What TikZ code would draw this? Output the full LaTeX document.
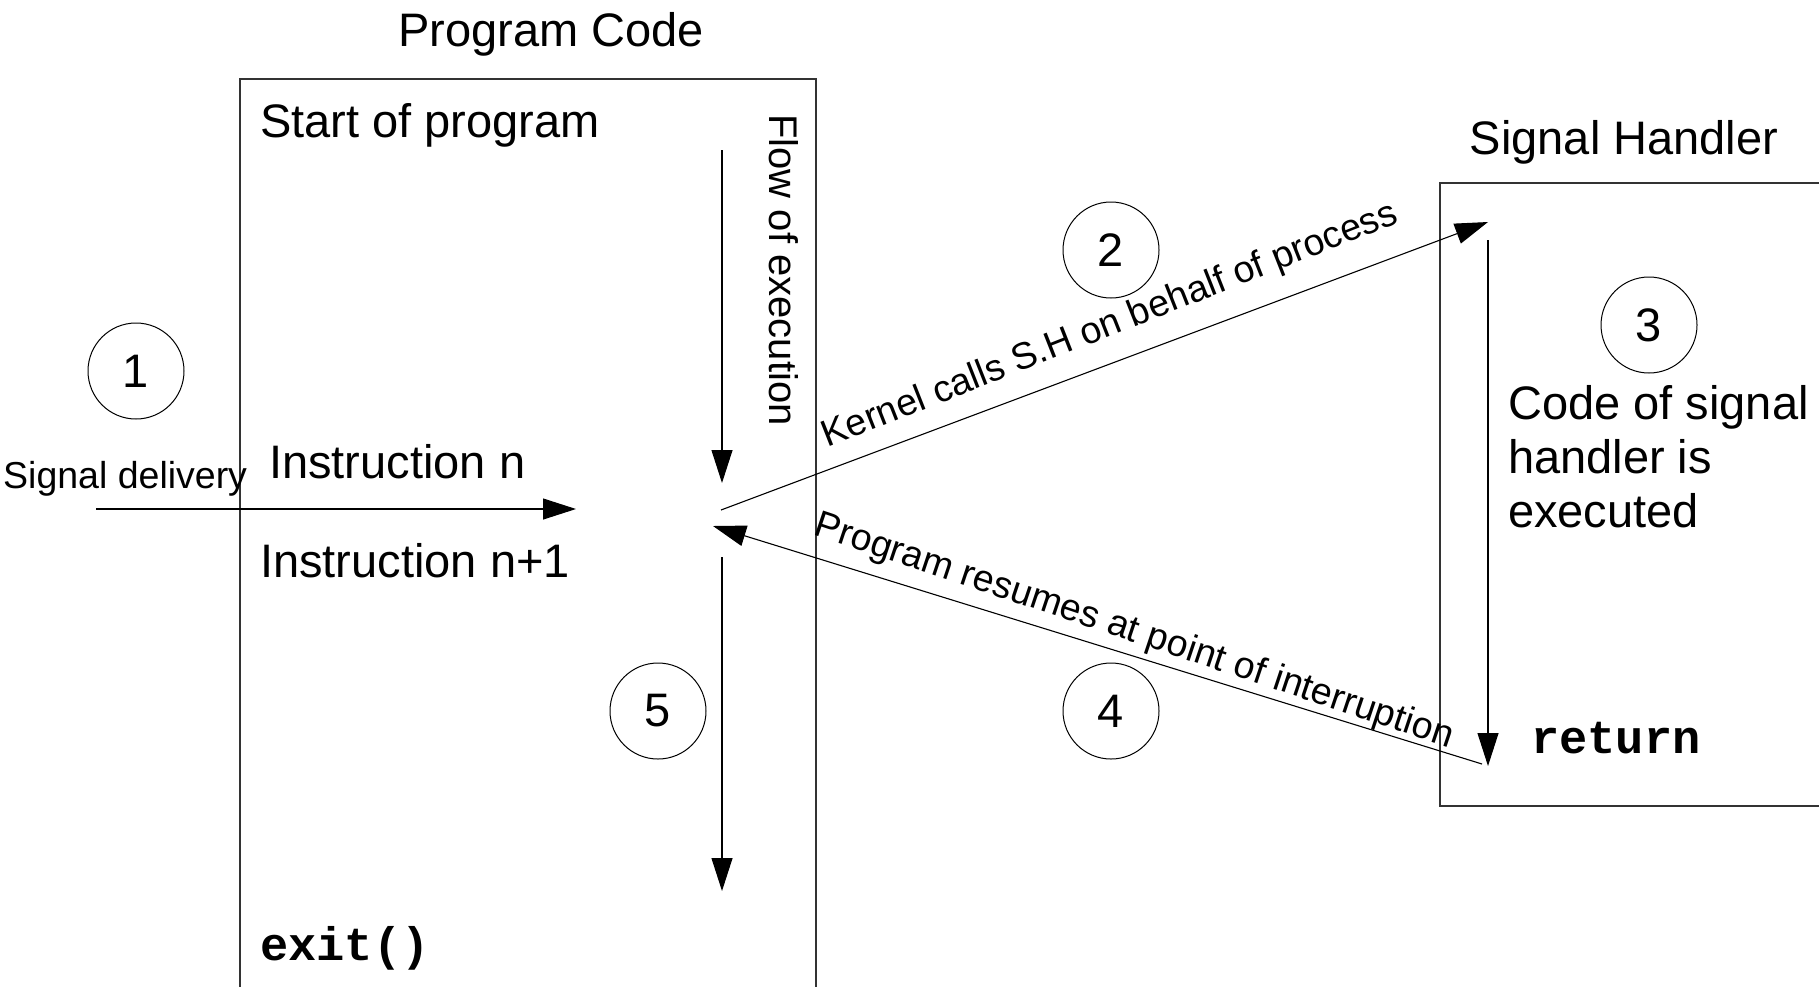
\documentclass[tikz,border=0pt]{standalone}
\usepackage{fontspec}
\setmainfont{Liberation Sans}
\setmonofont{Liberation Mono}
\usetikzlibrary{arrows.meta}
\begin{document}
\begin{tikzpicture}[x=1pt,y=-1pt,
  big/.style={font=\fontsize{47}{54}\selectfont, inner sep=0pt},
  mid/.style={font=\fontsize{37.5}{43}\selectfont, inner sep=0pt},
  code/.style={font=\fontsize{47}{54}\selectfont\ttfamily\bfseries, inner sep=0pt},
  num/.style={circle, draw, line width=1pt, minimum size=96pt, inner sep=0pt, font=\fontsize{47}{54}\selectfont},
  arr/.style={line width=1.1pt, -{Triangle[length=33pt,width=21pt]}},
  boxline/.style={line width=1.3pt, draw=black!80}]
\useasboundingbox (0,0) rectangle (1819,986);
\clip (0,0) rectangle (1819,986);

% boxes
\draw[boxline] (240,995) -- (240,79) -- (816,79) -- (816,995);
\draw[boxline] (1830,183) -- (1440,183) -- (1440,806) -- (1830,806);

% titles and texts
\node[big, anchor=base] (ptitle) at (551,46) {Program Code};
\node[big, anchor=base] (stitle) at (1624,154) {Signal Handler};
\node[big, anchor=base west] (start) at (260,137) {Start of program};
\node[big, anchor=base west] (instn) at (269,478) {Instruction n};
\node[big, anchor=base west] (instn1) at (260,577) {Instruction n+1};
\node[code, anchor=base west] (exit) at (260,960) {exit()};
\node[code, anchor=base west] (ret) at (1531,753) {return};
\node[big, anchor=base west, align=left] (shcode) at (1508,527) {Code of signal\\handler is\\executed};
\node[mid, anchor=base west] (sigdel) at (3,488) {Signal delivery};
\node[font=\fontsize{40}{46}\selectfont, inner sep=0pt, rotate=-90] (flow) at (784,270) {Flow of execution};

% numbered circles
\node[num] (c1) at (136,371) {1};
\node[num] (c2) at (1111,250) {2};
\node[num] (c3) at (1649,325) {3};
\node[num] (c4) at (1111,711) {4};
\node[num] (c5) at (658,711) {5};

% arrow end points
\coordinate (sdA) at (96,509);
\coordinate (sdB) at (576,509);
\coordinate (flA) at (722,150);
\coordinate (flB) at (722,483);
\coordinate (lwA) at (722,557);
\coordinate (lwB) at (722,891);
\coordinate (kA) at (721,510);
\coordinate (kB) at (1488,222);
\coordinate (rA) at (1482,764);
\coordinate (rB) at (713,526);
\coordinate (hA) at (1488,240);
\coordinate (hB) at (1488,766);

\draw[arr] (sdA) -- (sdB);
\draw[arr] (flA) -- (flB);
\draw[arr] (lwA) -- (lwB);
\draw[arr] (kA) -- (kB);
\draw[arr] (rA) -- (rB);
\draw[arr] (hA) -- (hB);

\node[mid, rotate=21.5] (klabel) at (1110,326) {Kernel calls S.H on behalf of process};
\node[mid, rotate=-18.5] (rlabel) at (1134,632) {Program resumes at point of interruption};
\end{tikzpicture}
\end{document}
